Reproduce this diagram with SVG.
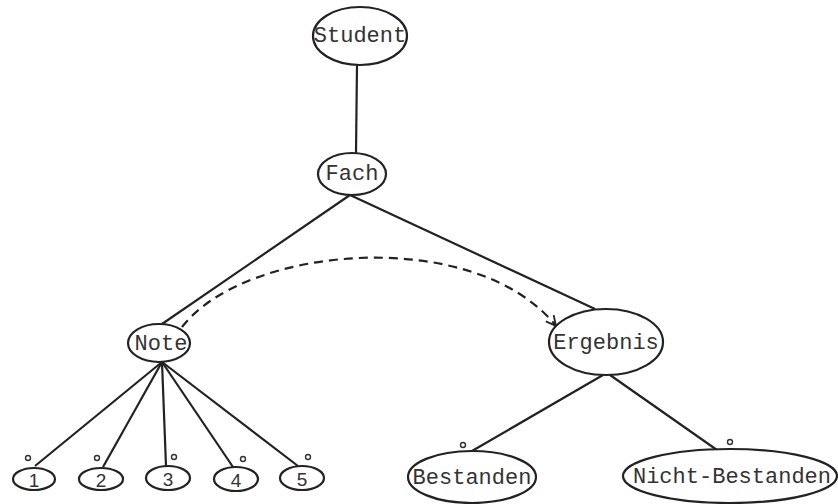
<svg xmlns="http://www.w3.org/2000/svg" width="838" height="504" viewBox="0 0 838 504">
<defs>
<style>
.n{fill:#fff;stroke:#222;stroke-width:2.2}
.t{font-family:"Liberation Mono","Courier New",monospace;font-size:22px;fill:#333;text-anchor:middle;dominant-baseline:central}
.d{font-family:"Liberation Sans",Arial,sans-serif;font-size:19px;fill:#333;text-anchor:middle;dominant-baseline:central}
.e{fill:none;stroke:#222;stroke-width:2.2}
.o{fill:none;stroke:#333;stroke-width:1.4}
</style>
<marker id="arr" viewBox="0 0 12 12" refX="11" refY="6" markerWidth="12" markerHeight="12" markerUnits="userSpaceOnUse" orient="auto">
<path d="M1,1 L11,6 L1,11" fill="none" stroke="#222" stroke-width="1.8"/>
</marker>
</defs>
<rect width="838" height="504" fill="#fff"/>
<g id="connectors">
<line class="e" x1="357" y1="65" x2="356" y2="153"/>
<line class="e" x1="350" y1="195" x2="162" y2="324"/>
<line class="e" x1="350" y1="195" x2="595" y2="309"/>
<line class="e" x1="162" y1="362" x2="35" y2="466"/>
<line class="e" x1="162" y1="362" x2="103" y2="467"/>
<line class="e" x1="162" y1="362" x2="166" y2="466"/>
<line class="e" x1="162" y1="362" x2="233" y2="467"/>
<line class="e" x1="162" y1="362" x2="298" y2="466"/>
<line class="e" x1="603" y1="375" x2="472" y2="451"/>
<line class="e" x1="610" y1="375" x2="717" y2="450"/>
<path class="e" d="M182,327 C245,245 475,225 556,326" stroke-dasharray="9,6" marker-end="url(#arr)"/>
<circle class="o" cx="28" cy="458" r="2.5"/>
<circle class="o" cx="97" cy="458" r="2.5"/>
<circle class="o" cx="174" cy="457" r="2.5"/>
<circle class="o" cx="243" cy="459" r="2.5"/>
<circle class="o" cx="308" cy="457" r="2.5"/>
<circle class="o" cx="463" cy="445" r="2.5"/>
<circle class="o" cx="730" cy="442" r="2.5"/>
</g>
<g id="student"><ellipse class="n" cx="360" cy="36" rx="47" ry="29"/><text class="t" x="360" y="36">Student</text></g>
<g id="fach"><ellipse class="n" cx="352" cy="174" rx="34" ry="21"/><text class="t" x="352" y="174">Fach</text></g>
<g id="note"><ellipse class="n" cx="159" cy="343" rx="31" ry="19"/><text class="t" x="161" y="344">Note</text></g>
<g id="ergebnis"><ellipse class="n" cx="606" cy="342" rx="57" ry="33"/><text class="t" x="606" y="343">Ergebnis</text></g>
<g id="n1"><ellipse class="n" cx="34" cy="479" rx="21" ry="11"/><text class="d" x="34" y="480">1</text></g>
<g id="n2"><ellipse class="n" cx="101" cy="479" rx="22" ry="11"/><text class="d" x="101" y="480">2</text></g>
<g id="n3"><ellipse class="n" cx="168" cy="478" rx="22" ry="12"/><text class="d" x="168" y="479">3</text></g>
<g id="n4"><ellipse class="n" cx="236" cy="479" rx="22" ry="12"/><text class="d" x="236" y="480">4</text></g>
<g id="n5"><ellipse class="n" cx="302" cy="478" rx="22" ry="12"/><text class="d" x="302" y="479">5</text></g>
<g id="bestanden"><ellipse class="n" cx="472" cy="477" rx="64" ry="26"/><text class="t" x="472" y="478">Bestanden</text></g>
<g id="nicht-bestanden"><ellipse class="n" cx="730" cy="476" rx="107" ry="27"/><text class="t" x="732" y="477">Nicht-Bestanden</text></g>
</svg>
